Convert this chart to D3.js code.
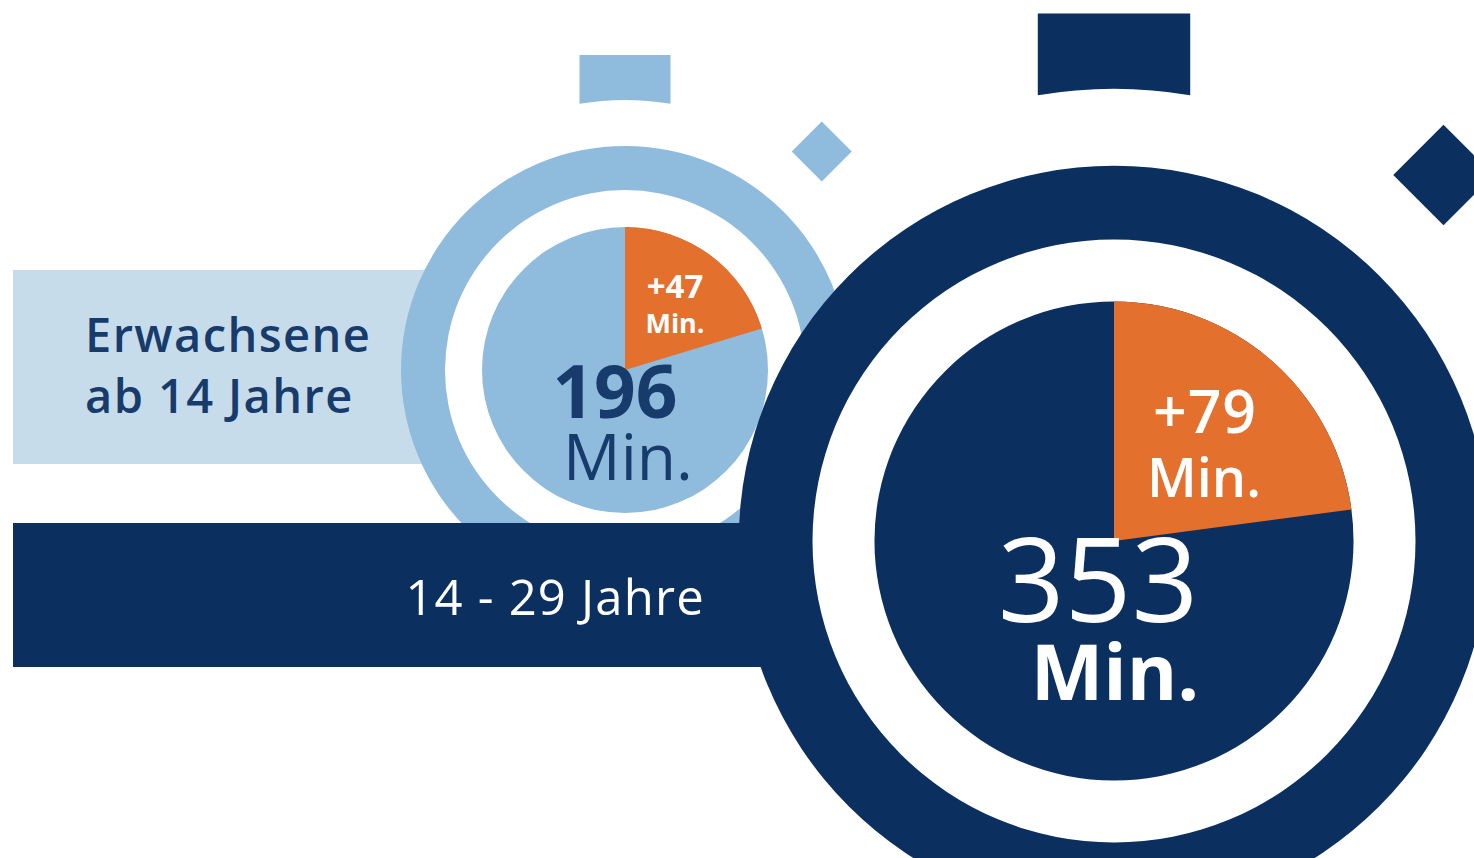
<!DOCTYPE html>
<html>
<head>
<meta charset="utf-8">
<script src="https://cdn.jsdelivr.net/npm/d3@7"></script>
<style>
  html, body { margin: 0; padding: 0; background: #fff; }
  svg { display: block; font-family: 'Open Sans', 'Noto Sans', sans-serif; }
</style>
</head>
<body>
<div id="chart"></div>
<script>
// values
const groupLines = [['Erwachsene', 'ab 14 Jahre'], ['14 - 29 Jahre']]
const totalMinutes = [196, 353]
const extraMinutes = [47, 79]
// share of the dial covered by the orange wedge, as drawn
const sliceShare = [0.203, 0.229]

const width = 1474
const height = 858

const colors = {
  lightRing: '#8fbbdd',
  lightBar: '#c7dcea',
  navy: '#0b2f5f',
  navyText: '#173b6b',
  orange: '#e3702c',
}

// layout of the two stopwatches (base geometry at scale 1)
const watches = [
  { cx: 625, cy: 370, s: 1, fill: colors.lightRing, bar: { y: 270, h: 194, fill: colors.lightBar } },
  { cx: 1114, cy: 541, s: 1.675, fill: colors.navy, bar: { y: 523, h: 144, fill: colors.navy } },
]
const base = {
  outerR: 224,
  ringInner: 180,
  discR: 143,
  crownW: 91,
  crownTop: 315,
  crownBottomR: 270,
  knobDist: 294,
  knobHalf: 30,
  knobAngle: 42,
}

const svg = d3
  .select('#chart')
  .append('svg')
  .attr('width', width)
  .attr('height', height)
  .attr('viewBox', [0, 0, width, height])

svg.append('rect').attr('width', width).attr('height', height).attr('fill', '#fff')

const angle = d3.scaleLinear().domain([0, 1]).range([0, 2 * Math.PI])
const pie = d3
  .pie()
  .sort(null)
  .value((d) => d)
  .startAngle(angle(0))
  .endAngle(angle(1))

function crownPath(g) {
  const w = g.crownW / 2
  const yb = -Math.sqrt(g.crownBottomR * g.crownBottomR - w * w)
  const p = d3.path()
  p.moveTo(-w, -g.crownTop)
  p.lineTo(w, -g.crownTop)
  p.lineTo(w, yb)
  p.arc(0, 0, g.crownBottomR, Math.atan2(yb, w), Math.atan2(yb, -w), true)
  p.closePath()
  return p.toString()
}

watches.forEach((wt, i) => {
  const g = {}
  Object.keys(base).forEach((k) => (g[k] = k === 'knobAngle' ? base[k] : base[k] * wt.s))

  // label band behind the watch
  svg
    .append('rect')
    .attr('x', 13)
    .attr('y', wt.bar.y)
    .attr('width', wt.cx - 13)
    .attr('height', wt.bar.h)
    .attr('fill', wt.bar.fill)

  const w = svg.append('g').attr('transform', `translate(${wt.cx},${wt.cy})`)

  // crown on top
  w.append('path').attr('d', crownPath(g)).attr('fill', wt.fill)

  // side button
  const a = (g.knobAngle * Math.PI) / 180
  w.append('rect')
    .attr('x', -g.knobHalf / Math.SQRT2)
    .attr('y', -g.knobHalf / Math.SQRT2)
    .attr('width', g.knobHalf * Math.SQRT2)
    .attr('height', g.knobHalf * Math.SQRT2)
    .attr('fill', wt.fill)
    .attr(
      'transform',
      `translate(${g.knobDist * Math.sin(a)},${-g.knobDist * Math.cos(a)}) rotate(45)`,
    )

  // ring, white gap, dial
  w.append('circle').attr('r', g.outerR).attr('fill', wt.fill)
  w.append('circle').attr('r', g.ringInner).attr('fill', '#fff')
  w.append('circle').attr('r', g.discR).attr('fill', wt.fill)

  const arcs = pie([sliceShare[i], 1 - sliceShare[i]])
  const arc = d3.arc().innerRadius(0).outerRadius(g.discR)
  w.append('path').attr('d', arc(arcs[0])).attr('fill', colors.orange)
})

// texts: light watch
const lw = watches[0]
const label0 = svg
  .append('text')
  .attr('x', 85)
  .attr('y', 352)
  .attr('font-size', 47)
  .attr('font-weight', 600)
  .attr('letter-spacing', 1.4)
  .attr('fill', colors.navyText)
label0
  .selectAll('tspan')
  .data(groupLines[0])
  .join('tspan')
  .attr('x', 85)
  .attr('dy', (d, j) => (j === 0 ? 0 : 61))
  .text((d) => d)

svg
  .append('text')
  .attr('x', lw.cx + 50)
  .attr('y', 298)
  .attr('text-anchor', 'middle')
  .attr('font-size', 33)
  .attr('font-weight', 700)
  .attr('fill', '#fff')
  .text(`+${extraMinutes[0]}`)
svg
  .append('text')
  .attr('x', lw.cx + 50)
  .attr('y', 333)
  .attr('text-anchor', 'middle')
  .attr('font-size', 27)
  .attr('font-weight', 700)
  .attr('fill', '#fff')
  .text('Min.')
svg
  .append('text')
  .attr('x', lw.cx - 10)
  .attr('y', 418)
  .attr('text-anchor', 'middle')
  .attr('font-size', 73)
  .attr('font-weight', 700)
  .attr('fill', colors.navyText)
  .text(totalMinutes[0])
svg
  .append('text')
  .attr('x', lw.cx + 3)
  .attr('y', 480)
  .attr('text-anchor', 'middle')
  .attr('font-size', 64)
  .attr('font-weight', 400)
  .attr('fill', colors.navyText)
  .text('Min.')

// texts: dark watch
const dw = watches[1]
svg
  .append('text')
  .attr('x', 705)
  .attr('y', 615)
  .attr('text-anchor', 'end')
  .attr('font-size', 49)
  .attr('font-weight', 500)
  .attr('letter-spacing', 1.2)
  .attr('fill', '#fff')
  .text(groupLines[1][0])

svg
  .append('text')
  .attr('x', dw.cx + 91)
  .attr('y', 433)
  .attr('text-anchor', 'middle')
  .attr('font-size', 59)
  .attr('font-weight', 600)
  .attr('letter-spacing', 1)
  .attr('fill', '#fff')
  .text(`+${extraMinutes[1]}`)
svg
  .append('text')
  .attr('x', dw.cx + 90)
  .attr('y', 497)
  .attr('text-anchor', 'middle')
  .attr('font-size', 54)
  .attr('font-weight', 600)
  .attr('fill', '#fff')
  .text('Min.')
svg
  .append('text')
  .attr('x', dw.cx - 16)
  .attr('y', 622)
  .attr('text-anchor', 'middle')
  .attr('font-size', 117)
  .attr('font-weight', 400)
  .attr('fill', '#fff')
  .text(totalMinutes[1])
svg
  .append('text')
  .attr('x', dw.cx + 1)
  .attr('y', 700)
  .attr('text-anchor', 'middle')
  .attr('font-size', 77)
  .attr('font-weight', 700)
  .attr('fill', '#fff')
  .text('Min.')
</script>
</body>
</html>
